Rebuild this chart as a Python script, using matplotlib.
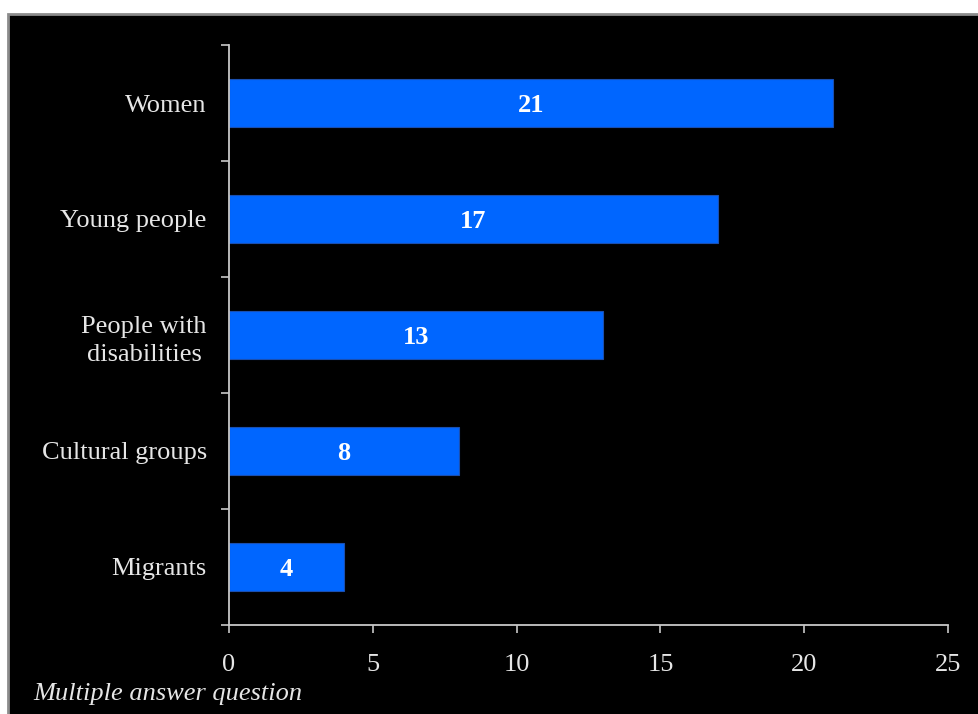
import matplotlib
matplotlib.use('Agg')
import matplotlib.pyplot as plt
from matplotlib.patches import Rectangle

# groups targeted, top to bottom
groups = ['Women', 'Young people', 'People with\ndisabilities', 'Cultural groups', 'Migrants']
counts = [21, 17, 13, 8, 4]
xticks = [0, 5, 10, 15, 20, 25]
note = 'Multiple answer question'

plt.rcParams['font.family'] = ['Liberation Serif', 'DejaVu Serif']
fs = 19
fg = '#e6e6e6'
axcol = '#c8c8c8'
barcol = '#0066ff'

fig = plt.figure(figsize=(9.79, 7.14), dpi=100, facecolor='white')

# black slide panel with grey frame (runs off the right and bottom edges)
fig.patches.append(Rectangle((8 / 979, -0.05), 1.05, 1.05 - 14 / 714,
                             transform=fig.transFigure, facecolor='black',
                             edgecolor='#8c8c8c', linewidth=2.0, zorder=-1))

ax = fig.add_axes([229 / 979, 1 - 625 / 714, (948 - 229) / 979, (625 - 45) / 714])
ax.patch.set_alpha(0)

pos = list(range(len(groups)))
ax.barh(pos, counts, height=0.414, color=barcol, edgecolor='#1a4fb0',
        linewidth=0.8, zorder=2)
for p, v in zip(pos, counts):
    ax.text(v / 2, p + 0.02, str(v), ha='center', va='center', color='white',
            fontsize=fs, fontweight='bold', zorder=3)

ax.set_xlim(0, 25)
ax.set_ylim(len(groups) - 0.5, -0.5)

# ticks between categories, labels at category centres
ax.set_yticks([p - 0.5 for p in pos] + [len(groups) - 0.5])
ax.set_yticklabels([])
ax.set_yticks(pos, minor=True)
ax.set_yticklabels(groups, minor=True, fontsize=fs, color=fg,
                   multialignment='center', linespacing=1.4)
ax.tick_params(axis='y', which='major', length=6, width=1.2, color=axcol, direction='out')
ax.tick_params(axis='y', which='minor', length=0, pad=16)

ax.set_xticks(xticks)
ax.set_xticklabels([str(t) for t in xticks], fontsize=fs, color=fg)
ax.tick_params(axis='x', length=6, width=1.2, color=axcol, direction='out', pad=15)

for s in ['top', 'right']:
    ax.spines[s].set_visible(False)
for s in ['left', 'bottom']:
    ax.spines[s].set_color(axcol)
    ax.spines[s].set_linewidth(1.3)

fig.text(33 / 979, 1 - 700 / 714, note, fontsize=fs, style='italic', color=fg,
         ha='left', va='baseline')

fig.savefig('out.png', dpi=100, facecolor=fig.get_facecolor())
